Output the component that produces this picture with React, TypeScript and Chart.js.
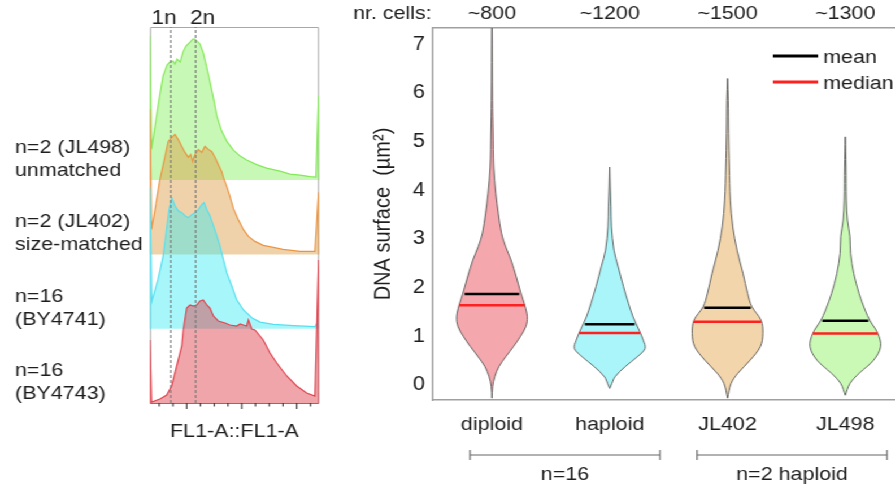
import React, { useEffect, useRef } from 'react';
import { Chart, registerables } from 'chart.js';

Chart.register(...registerables);

// ---------- layout / style constants ----------
const STRETCH = 1.13; // the whole figure is horizontally stretched
const FONT = '"Liberation Sans", Arial, Helvetica, sans-serif';
const TEXT = '#1e1e1e';
const AXIS = '#a0a0a0';

// ---------- left panel: FL1-A histograms (x: % of FL1-A range, y: counts) ----------
const bandLabels = [
  ['n=16', '(BY4743)'],
  ['n=16', '(BY4741)'],
  ['n=2 (JL402)', 'size-matched'],
  ['n=2 (JL498)', 'unmatched'],
];
const BAND_STEP = 74.3;
const COUNT_MAX = 376;

const redX = [0, 0.1, 0.9, 5.9, 9.9, 12.8, 15.8, 18.8, 19.7, 21.7, 23.7, 25.6, 27.6, 29.6, 31.5, 33.6, 35.5, 37.5, 40.4, 44.4, 47.3, 51.3, 53.3, 55.2, 57.2, 58.2, 60.2, 62.1, 67.0, 71.0, 75.0, 80.9, 86.8, 92.7, 97.6, 99.7, 100];
const redY = [0, 63, 1, 4, 8, 17, 37, 57, 73, 95, 98, 97, 98, 102, 103, 98, 95, 87, 82, 80, 78, 77, 79, 78, 77, 83, 74, 73, 63, 50, 40, 27, 17, 10, 7, 143, 0];

const cyanX = [0, 0.1, 1.0, 4.7, 5.9, 7.7, 9.5, 11.2, 12.8, 14.8, 16.7, 18.8, 20.7, 22.7, 24.7, 26.6, 28.6, 30.6, 32.0, 33.6, 35.5, 37.5, 39.5, 41.4, 43.4, 45.4, 48.3, 51.3, 55.2, 60.2, 65.1, 73.0, 85.0, 97.6, 99.7, 100];
const cyanY = [0, 142, 27, 49, 58, 72, 95, 118, 131, 123, 118, 116, 113, 111, 114, 116, 119, 124, 126, 119, 113, 103, 93, 83, 69, 56, 43, 29, 19, 11, 6.6, 4.3, 3, 2, 8, 0];

const orangeX = [0, 0.1, 0.9, 3.0, 5.9, 8.9, 10.8, 12.8, 14.8, 16.7, 18.8, 20.7, 22.7, 24.1, 25.3, 26.6, 28.6, 30.6, 32.5, 34.5, 36.5, 38.5, 40.4, 42.4, 43.4, 45.4, 47.3, 49.3, 52.2, 55.2, 58.2, 62.1, 67.0, 73.0, 78.7, 88.8, 97.6, 99.7, 100];
const orangeY = [0, 145, 25, 45, 75, 98, 113, 117, 120, 115, 108, 102, 97, 100, 93, 100, 105, 102, 108, 105, 103, 97, 90, 83, 77, 68, 58, 46, 35, 25, 18, 13, 9, 7, 5, 3, 3, 62, 0];

const greenX = [0, 0.1, 0.9, 3.6, 5.9, 7.7, 10.1, 11.8, 13.6, 14.8, 16.0, 17.8, 19.5, 21.3, 23.7, 25.4, 26.6, 27.8, 29.6, 31.4, 33.1, 34.9, 37.3, 39.6, 42.4, 45.4, 49.3, 53.3, 57.2, 63.1, 69.0, 76.9, 82.8, 88.8, 94.7, 98.2, 99.7, 100];
const greenY = [0, 144, 31, 61, 86, 104, 115, 118, 119, 116, 121, 118, 128, 134, 138, 141, 141, 139, 136, 128, 116, 103, 84, 64, 49, 39, 30, 24, 20, 15.5, 12, 9, 6, 5, 3.5, 3, 84, 0];

const ploidyLabels = ['1n', '2n'];
const ploidyX = [12.25, 27.0];
const ploidyLabelX = [8.3, 31.1];
const fl1Ticks = [-2, -1, 0, 1, 2, 3, 4, 5, 6, 7, 8, 9];

// ---------- right panel: violins of DNA surface ----------
const categories = ['diploid', 'haploid', 'JL402', 'JL498'];
const cellCounts = ['~800', '~1200', '~1500', '~1300'];
const yTicks = [0, 1, 2, 3, 4, 5, 6, 7];

const diploidV = [-0.27, -0.03, 0.17, 0.38, 0.58, 0.79, 0.99, 1.20, 1.40, 1.64, 1.89, 2.22, 2.57, 2.84, 3.12, 3.53, 3.94, 4.48, 5.20, 5.85, 7.40];
const diploidD = [0, 0.02, 0.08, 0.20, 0.39, 0.61, 0.80, 0.96, 1.00, 0.93, 0.82, 0.69, 0.54, 0.39, 0.27, 0.18, 0.11, 0.05, 0.03, 0.015, 0.005];

const haploidV = [-0.07, 0.03, 0.17, 0.38, 0.58, 0.75, 0.92, 1.13, 1.40, 1.68, 2.02, 2.43, 2.77, 3.25, 3.66, 4.07, 4.48];
const haploidD = [0, 0.06, 0.15, 0.44, 0.78, 1.00, 0.95, 0.83, 0.66, 0.53, 0.39, 0.24, 0.12, 0.05, 0.035, 0.015, 0];

const jl402V = [-0.27, 0.03, 0.24, 0.51, 0.79, 1.06, 1.33, 1.61, 1.88, 2.29, 2.77, 3.25, 3.80, 4.48, 5.17, 5.85, 6.30];
const jl402D = [0, 0.10, 0.29, 0.64, 0.93, 1.00, 0.95, 0.69, 0.57, 0.44, 0.27, 0.15, 0.08, 0.05, 0.03, 0.02, 0];

const jl498V = [-0.21, 0.03, 0.24, 0.51, 0.79, 1.06, 1.32, 1.54, 1.88, 2.29, 2.70, 3.05, 3.39, 3.80, 4.48, 5.10];
const jl498D = [0, 0.13, 0.39, 0.80, 1.00, 0.92, 0.70, 0.56, 0.39, 0.24, 0.15, 0.13, 0.06, 0.03, 0.02, 0];

const means = [1.87, 1.25, 1.59, 1.32];
const medians = [1.64, 1.07, 1.30, 1.06];

const groupLabels = ['n=16', 'n=2 haploid'];
const groupStart = [0.814, 2.741];
const groupEnd = [2.427, 4.354];

const VIOLIN_HALF_WIDTH = 0.3;

function densityAt(vs: number[], ds: number[], v: number) {
  for (let i = 0; i < vs.length - 1; i++) {
    if (v >= vs[i] && v <= vs[i + 1]) {
      const t = (v - vs[i]) / (vs[i + 1] - vs[i]);
      return ds[i] + t * (ds[i + 1] - ds[i]);
    }
  }
  return 0;
}

const LEFT_W = 292;
const RIGHT_W = 500;
const H = 488;

function LeftPanel() {
  const ref = useRef<HTMLCanvasElement>(null);
  useEffect(() => {
    const canvas = ref.current!;
    const bands = [
      { xs: redX, ys: redY, line: '#e0444f', fill: 'rgba(222,56,66,0.45)' },
      { xs: cyanX, ys: cyanY, line: '#55dff0', fill: 'rgba(60,235,245,0.45)' },
      { xs: orangeX, ys: orangeY, line: '#ea9442', fill: 'rgba(222,155,66,0.45)' },
      { xs: greenX, ys: greenY, line: '#85e85a', fill: 'rgba(130,240,90,0.45)' },
    ];
    const dashed = ploidyX.map((px) => ({
      data: [{ x: px, y: 0 }, { x: px, y: COUNT_MAX }],
      borderColor: '#7a7a7a',
      borderWidth: 1.2,
      borderDash: [3, 2],
      fill: false,
      pointRadius: 0,
    }));
    const hist = bands.map((b, k) => ({
      data: b.xs.map((x, i) => ({ x, y: b.ys[i] + k * BAND_STEP })),
      borderColor: b.line,
      backgroundColor: b.fill,
      borderWidth: 1.2,
      fill: { value: k * BAND_STEP },
      tension: 0,
      pointRadius: 0,
    }));

    const frame = {
      id: 'leftFrame',
      beforeDatasetsDraw(chart: any) {
        const { ctx, chartArea: a } = chart;
        ctx.save();
        ctx.strokeStyle = '#a8a8a8';
        ctx.lineWidth = 1;
        ctx.beginPath();
        ctx.moveTo(a.left + 0.5, a.bottom);
        ctx.lineTo(a.left + 0.5, a.top + 0.5);
        ctx.lineTo(a.right - 0.5, a.top + 0.5);
        ctx.lineTo(a.right - 0.5, a.bottom);
        ctx.stroke();
        ctx.restore();
      },
      afterDraw(chart: any) {
        const { ctx, chartArea: a, scales } = chart;
        ctx.save();
        // bottom axis
        ctx.strokeStyle = '#777';
        ctx.lineWidth = 1;
        ctx.beginPath();
        ctx.moveTo(a.left, a.bottom + 0.5);
        ctx.lineTo(a.right, a.bottom + 0.5);
        ctx.stroke();
        ctx.strokeStyle = '#333';
        ctx.lineWidth = 1.1;
        fl1Ticks.forEach((t) => {
          const px = scales.xt.getPixelForValue(t);
          const len = t % 4 === 0 ? 6 : 3.5;
          ctx.beginPath();
          ctx.moveTo(px, a.bottom);
          ctx.lineTo(px, a.bottom + len);
          ctx.stroke();
        });
        ctx.fillStyle = TEXT;
        ctx.font = `19px ${FONT}`;
        ctx.textAlign = 'center';
        ctx.textBaseline = 'alphabetic';
        ctx.fillText('FL1-A::FL1-A', (a.left + a.right) / 2, a.bottom + 34);
        // band labels
        ctx.textAlign = 'left';
        bandLabels.forEach((lines, k) => {
          const base = scales.y.getPixelForValue(k * BAND_STEP);
          ctx.fillText(lines[0], 13.3, base - 27);
          ctx.fillText(lines[1], 13.3, base - 4);
        });
        // ploidy labels
        ctx.font = `20px ${FONT}`;
        ctx.textAlign = 'center';
        ploidyLabels.forEach((l, i) => {
          ctx.fillText(l, scales.x.getPixelForValue(ploidyLabelX[i]), a.top - 3);
        });
        ctx.restore();
      },
    };

    const chart = new Chart(canvas, {
      type: 'line',
      data: { datasets: [...dashed, ...hist] as any },
      options: {
        responsive: false,
        animation: false,
        events: [],
        layout: { padding: { left: 132.74, right: 9.7, top: 27, bottom: 85 } },
        plugins: { legend: { display: false }, tooltip: { enabled: false } },
        elements: { point: { radius: 0 }, line: { tension: 0 } },
        scales: {
          x: { type: 'linear', min: 0, max: 100, display: false },
          xt: { type: 'linear', axis: 'x', min: -2.67, max: 9.62, display: false },
          y: { type: 'linear', min: 0, max: COUNT_MAX, display: false },
        } as any,
      },
      plugins: [frame],
    });
    return () => chart.destroy();
  }, []);
  return (
    <canvas
      ref={ref}
      width={LEFT_W}
      height={H}
      style={{ position: 'absolute', left: 0, top: 0, width: LEFT_W, height: H }}
    />
  );
}

function RightPanel() {
  const ref = useRef<HTMLCanvasElement>(null);
  useEffect(() => {
    const canvas = ref.current!;
    const groups = [
      { vs: diploidV, ds: diploidD, fill: '#f4a7ac' },
      { vs: haploidV, ds: haploidD, fill: '#a9f5f9' },
      { vs: jl402V, ds: jl402D, fill: '#f2d5ab' },
      { vs: jl498V, ds: jl498D, fill: '#c9f9b5' },
    ];
    const violins = groups.map((g, gi) => {
      const c = gi + 1;
      const pts: { x: number; y: number }[] = [];
      for (let i = 0; i < g.vs.length; i++) pts.push({ x: c + g.ds[i] * VIOLIN_HALF_WIDTH, y: g.vs[i] });
      for (let i = g.vs.length - 1; i >= 0; i--) pts.push({ x: c - g.ds[i] * VIOLIN_HALF_WIDTH, y: g.vs[i] });
      return {
        label: categories[gi],
        data: pts,
        borderColor: '#555555',
        borderWidth: 0.9,
        backgroundColor: g.fill,
        fill: 'shape',
        tension: 0.35,
        pointRadius: 0,
      };
    });
    const statLine = (vals: number[], factor: number) => {
      const pts: any[] = [];
      vals.forEach((m, gi) => {
        const c = gi + 1;
        const w = densityAt(groups[gi].vs, groups[gi].ds, m) * VIOLIN_HALF_WIDTH * factor;
        pts.push({ x: c - w, y: m }, { x: c + w, y: m }, { x: c + 0.5, y: null });
      });
      return pts;
    };
    const meanDs = {
      label: 'mean',
      data: statLine(means, 0.93),
      borderColor: '#000000',
      borderWidth: 2.5,
      fill: false,
      spanGaps: false,
      pointRadius: 0,
    };
    const medianDs = {
      label: 'median',
      data: statLine(medians, 1.0),
      borderColor: '#ff2020',
      borderWidth: 2.5,
      fill: false,
      spanGaps: false,
      pointRadius: 0,
    };

    const X_MIN = 0.5;
    const X_MAX = 0.5 + (RIGHT_W - 91.2) / (117.8 / STRETCH);
    const catTicks = (s: any) => {
      s.ticks = categories.map((_, i) => ({ value: i + 1 }));
    };
    const tickFont = { family: FONT, size: 19 };

    const decor = {
      id: 'rightDecor',
      afterDraw(chart: any) {
        const { ctx, chartArea: a, scales } = chart;
        ctx.save();
        ctx.fillStyle = TEXT;
        ctx.font = `19px ${FONT}`;
        ctx.textBaseline = 'middle';
        ctx.textAlign = 'left';
        ctx.fillText('nr. cells:', 20.4, 14);
        // legend
        const items = [
          { label: 'mean', color: '#000000', y: a.top + 28 },
          { label: 'median', color: '#ff2020', y: a.top + 54 },
        ];
        items.forEach((it) => {
          ctx.strokeStyle = it.color;
          ctx.lineWidth = 3;
          ctx.beginPath();
          ctx.moveTo(a.right - 108, it.y);
          ctx.lineTo(a.right - 68, it.y);
          ctx.stroke();
          ctx.fillText(it.label, a.right - 63.5, it.y + 1.5);
        });
        // group brackets
        ctx.strokeStyle = '#666666';
        ctx.lineWidth = 1.2;
        ctx.textAlign = 'center';
        groupLabels.forEach((l, i) => {
          const x0 = scales.x.getPixelForValue(groupStart[i]);
          const x1 = scales.x.getPixelForValue(groupEnd[i]);
          const yb = a.bottom + 55;
          ctx.beginPath();
          ctx.moveTo(x0, yb);
          ctx.lineTo(x1, yb);
          ctx.moveTo(x0, yb - 5);
          ctx.lineTo(x0, yb + 5);
          ctx.moveTo(x1, yb - 5);
          ctx.lineTo(x1, yb + 5);
          ctx.stroke();
          ctx.fillText(l, (x0 + x1) / 2, a.bottom + 75);
        });
        ctx.restore();
      },
    };

    const chart = new Chart(canvas, {
      type: 'line',
      data: { datasets: [meanDs, medianDs, ...violins] as any },
      options: {
        responsive: false,
        animation: false,
        events: [],
        layout: { padding: { left: 0, right: 0, top: 0, bottom: 48 } },
        plugins: { legend: { display: false }, tooltip: { enabled: false } },
        elements: { point: { radius: 0 } },
        scales: {
          x: {
            type: 'linear',
            position: 'bottom',
            min: X_MIN,
            max: X_MAX,
            grid: { display: false, drawTicks: false },
            border: { display: true, color: AXIS, width: 1.5 },
            ticks: {
              font: tickFont,
              color: TEXT,
              padding: 13.6,
              maxRotation: 0,
              minRotation: 0,
              autoSkip: false,
              callback: (v: any) => categories[Math.round(v) - 1] ?? '',
            },
            afterBuildTicks: catTicks,
            afterFit: (s: any) => {
              s.height = 40;
            },
          },
          xTop: {
            type: 'linear',
            axis: 'x',
            position: 'top',
            min: X_MIN,
            max: X_MAX,
            grid: { display: false, drawTicks: false },
            border: { display: true, color: AXIS, width: 1.5 },
            ticks: {
              font: tickFont,
              color: TEXT,
              padding: 2.6,
              maxRotation: 0,
              minRotation: 0,
              autoSkip: false,
              callback: (v: any) => cellCounts[Math.round(v) - 1] ?? '',
            },
            afterBuildTicks: catTicks,
            afterFit: (s: any) => {
              s.height = 28;
            },
          },
          y: {
            type: 'linear',
            position: 'left',
            min: -0.308,
            max: 7.337,
            grid: { display: false, drawTicks: false },
            border: { display: true, color: AXIS, width: 1.5 },
            ticks: { font: { family: FONT, size: 19.5 }, color: TEXT, padding: 7.1 },
            afterBuildTicks: (s: any) => {
              s.ticks = yTicks.map((v) => ({ value: v }));
            },
            afterFit: (s: any) => {
              s.width = 91.2;
            },
            title: {
              display: true,
              text: 'DNA surface  (µm²)',
              font: { family: FONT, size: 20 },
              color: TEXT,
              padding: { top: 35, bottom: 0 },
            },
          },
        } as any,
      },
      plugins: [decor],
    });
    return () => chart.destroy();
  }, []);
  return (
    <canvas
      ref={ref}
      width={RIGHT_W}
      height={H}
      style={{ position: 'absolute', left: LEFT_W, top: 0, width: RIGHT_W, height: H }}
    />
  );
}

export default function App() {
  return (
    <div
      style={{
        position: 'absolute',
        left: 0,
        top: 0,
        width: LEFT_W + RIGHT_W,
        height: H,
        transform: `scaleX(${STRETCH})`,
        transformOrigin: '0 0',
        background: '#ffffff',
      }}
    >
      <LeftPanel />
      <RightPanel />
    </div>
  );
}
